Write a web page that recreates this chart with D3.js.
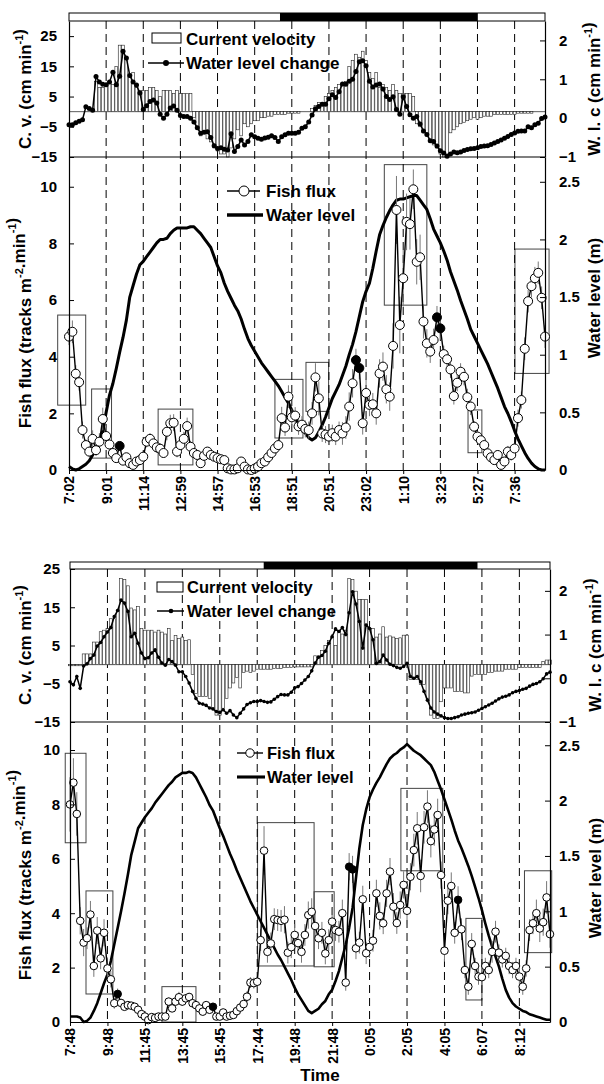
<!DOCTYPE html>
<html><head><meta charset="utf-8">
<script src="https://cdn.jsdelivr.net/npm/d3@7/dist/d3.min.js"></script>
<style>
body{margin:0;background:#fff;}
svg text{font-family:"Liberation Sans",Arial,sans-serif;font-weight:bold;fill:#000;}
</style></head><body>
<svg id="c" width="604" height="1084"></svg>
<script>
// ---------- DATA ----------
const timesA=["7:02","9:01","11:14","12:59","14:57","16:53","18:51","20:51","23:02","1:10","3:23","5:27","7:36"];
const timesB=["7:48","9:48","11:45","13:45","15:45","17:44","19:48","21:48","0:05","2:05","4:05","6:07","8:12"];

const cvTicksA=[-15,-5,5,15,25], cvTicksB=[-15,-5,5,15,25];
const wlcTicks=[-1,0,1,2];
const fluxTicks=[0,2,4,6,8,10];
const levelTicks=[0,0.5,1,1.5,2,2.5];

// Panel A: current velocity (cm/min)
const cvA=[0,0,0,0,0,0,0,0,10,8,8,9,10,9,15,22,22,18,12,13,8,7,
7,7,8,8,7,5,7,7,7,6,7,6,6,6,6,
-2,-5,-8,-7,-9,-10,-12,-13,-14,-14,-15,-12,-9,-6,-8,-4,-5,-4,-3,-3,-2,-2,-1.5,-1.5,-1,-1,-1,-1,-0.5,-0.5,-0.5,-0.5,0,0,
0,1,2,3,3,5,6,7,8,9,9,10,15,17,19,18,20,17,13,11,13,8,9,8,7,9,7,6,6,6,6,5,
-4,-5,-7,-8,-10,-11,-12,-14,-15,-14,-7,-6,-5,-4,-3.5,-3,-2.5,-2,-2.5,-2,-1.5,-1.5,-1.5,-1,-1,-1,-1,-1,-1,-1,-0.5,-0.5,-0.5,-0.5,-0.5,0,0,0,0];
// Panel A: water level change (cm/min)
const wlcA=[-0.17,-0.17,-0.12,-0.08,-0.04,0.29,0.25,0.2,1.07,0.93,
0.87,0.86,0.93,1.18,0.86,1.08,1.72,1.55,1.1,0.93,
0.85,0.65,0.22,0.32,0.43,0.47,0.39,0.1,0.0,0.1,
0.26,0.31,0.2,0.07,0.04,0.04,0.0,-0.1,-0.25,-0.39,
-0.36,-0.35,-0.5,-0.71,-0.78,-0.76,-0.8,-0.82,-0.4,-0.86,
-0.73,-0.56,-0.69,-0.6,-0.43,-0.48,-0.52,-0.54,-0.51,-0.49,
-0.45,-0.5,-0.6,-0.48,-0.43,-0.39,-0.39,-0.39,-0.36,-0.26,
-0.22,-0.1,0.08,0.24,0.3,0.36,0.36,0.5,0.6,0.53,
0.68,0.88,0.87,0.95,1.0,1.2,1.45,1.48,1.35,0.95,
0.8,0.85,0.88,0.75,0.56,0.48,0.55,0.22,0.1,0.55,
0.3,0.09,0.0,0.04,-0.15,-0.33,-0.42,-0.58,-0.6,-0.72,
-0.84,-0.9,-0.98,-0.92,-0.87,-0.89,-0.87,-0.83,-0.81,-0.79,
-0.78,-0.76,-0.73,-0.72,-0.71,-0.68,-0.64,-0.6,-0.56,-0.52,
-0.47,-0.42,-0.38,-0.34,-0.33,-0.33,-0.22,-0.25,-0.17,-0.13,
-0.01,0.03];
// Panel A: water level (m)
const levelA=[0.03,0.01,0.0,0.01,0.03,0.05,0.08,0.13,0.19,0.25,
0.34,0.5,0.65,0.75,0.88,1.02,1.15,1.3,1.5,1.6,
1.7,1.78,1.81,1.85,1.89,1.93,1.97,2.0,2.0,2.01,
2.05,2.08,2.1,2.1,2.1,2.1,2.11,2.11,2.08,2.05,
2.01,1.97,1.93,1.85,1.77,1.71,1.62,1.55,1.49,1.43,
1.38,1.31,1.22,1.14,1.08,1.03,0.98,0.93,0.89,0.85,
0.81,0.77,0.73,0.68,0.63,0.58,0.52,0.45,0.39,0.36,
0.32,0.28,0.26,0.28,0.33,0.39,0.46,0.54,0.62,0.68,
0.74,0.82,0.9,1.0,1.09,1.2,1.33,1.46,1.55,1.62,
1.75,1.9,2.04,2.12,2.19,2.25,2.3,2.34,2.35,2.35,
2.36,2.37,2.38,2.38,2.34,2.3,2.26,2.18,2.09,2.03,
1.97,1.9,1.82,1.72,1.64,1.56,1.47,1.39,1.31,1.22,
1.16,1.1,1.04,0.98,0.92,0.85,0.78,0.71,0.63,0.55,
0.49,0.42,0.34,0.27,0.21,0.15,0.1,0.06,0.03,0.01,
0.0,0.0];
// Panel A: fish flux (tracks m-2 min-1) and error
const fluxA=[4.71,4.88,3.4,3.1,1.41,0.88,0.65,1.1,0.7,1.0,
1.8,1.2,0.9,0.6,0.42,0.85,0.33,0.45,0.24,0.18,
0.3,0.35,0.47,1.0,1.1,0.94,0.8,0.75,0.6,1.35,
1.65,1.67,0.65,0.88,1.1,1.55,0.82,0.6,0.53,0.24,
0.5,0.65,0.53,0.47,0.42,0.38,0.35,0.06,0.02,0.02,
0.06,0.3,0.12,0.02,0.0,0.05,0.12,0.24,0.3,0.45,
0.6,0.76,0.88,1.83,1.5,2.59,1.86,1.92,1.54,1.6,
1.45,1.41,2.0,3.27,2.53,1.29,1.25,1.18,1.3,1.18,
1.41,1.29,1.5,2.24,3.06,3.88,3.6,1.65,2.72,2.3,
2.32,2.0,3.41,3.65,2.85,2.59,4.38,9.18,5.12,6.77,
8.76,8.68,9.91,7.35,7.51,5.24,4.47,4.18,4.59,5.39,
5.0,4.09,3.91,3.55,2.61,3.08,3.47,3.29,2.57,2.24,
1.53,1.18,1.05,0.88,0.59,0.45,0.35,0.53,0.18,0.3,
0.65,0.53,0.76,1.83,2.47,4.28,5.96,6.49,6.77,6.96,
6.08,4.71];
const errA=[0.3,0.4,0.3,0.3,0.3,0.2,0.2,0.3,0.2,0.3,
0.4,0.3,0.2,0.2,0.15,0.15,0.1,0.15,0.1,0.1,
0.1,0.15,0.15,0.2,0.2,0.2,0.2,0.2,0.15,0.3,
0.3,0.3,0.2,0.2,0.25,0.3,0.2,0.2,0.15,0.1,
0.15,0.15,0.15,0.1,0.1,0.1,0.1,0.05,0.05,0.05,
0.05,0.1,0.05,0.05,0.05,0.05,0.05,0.1,0.1,0.1,
0.15,0.2,0.2,0.4,0.3,0.4,0.3,0.3,0.3,0.3,
0.3,0.3,0.4,0.5,0.6,0.3,0.3,0.3,0.3,0.3,
0.3,0.4,0.4,0.5,0.5,0.4,0.4,0.4,0.5,0.4,
0.4,0.4,0.5,0.5,0.5,0.5,0.8,1.2,1.0,1.0,
1.0,0.9,0.7,0.8,0.8,0.6,0.5,0.4,0.4,0.4,
0.4,0.3,0.3,0.3,0.3,0.3,0.3,0.3,0.3,0.3,
0.2,0.2,0.2,0.2,0.2,0.2,0.15,0.15,0.1,0.15,
0.2,0.2,0.2,0.3,0.3,0.4,0.4,0.4,0.4,0.4,
0.4,0.4];
const blackA=[15,85,86,109,110];
const boxesA=[[-3.35,4.95,2.29,5.47],[6.7,12.6,0.42,2.86],[26.4,36.7,0.18,2.15],[61,69.3,1.13,3.2],
[70.2,76.9,2.07,3.8],[93.4,106,5.82,10.78],[118.2,122.3,0.61,2.12],[132.1,142.2,3.41,7.8]];
const nightA=[62.5,121.1];

// Panel B
const cvB=[-0.3,-0.3,-0.3,-0.3,2.8,2.8,2.8,5.9,5.9,8.6,
9,9.4,12,12,14.3,22.5,22.3,20.6,14.8,14.3,
15.2,9.4,9,9,9,8.5,9,8.5,8,9.4,
6.3,7.6,6.8,7.2,6.3,6.5,-2.6,-7.5,-8.3,-8.3,
-8.3,-8.8,-11.4,-13.2,-13.2,-11.4,-8.8,-6.1,-4.8,-3.4,
-6.1,-2.1,-1.7,-2.1,-1.7,-1.2,-1.2,-1.2,-1.2,-1.2,
-1,-1,-1,-0.8,-0.8,-0.8,-0.6,-0.6,-0.6,-0.6,
-0.6,-0.6,2.3,2.3,3.7,5,6.3,7.2,5,9,
8,9,22.5,22.3,19.2,17,17,17,9.4,9.4,
7.2,8,9.9,7.2,7.5,7.2,6.8,7,7.7,7.7,
-3.9,-3.9,-3.9,-5.2,-5.2,-8.8,-13.2,-14.1,-14.1,-9.7,
-6.1,-6.1,-6.1,-7,-7,-7,-7.4,-7.4,-3,-2.6,
-2.6,-2.6,-2.6,-2.1,-2.1,-1.7,-1.7,-1.7,-1.2,-1.2,
-1.2,-1.2,-0.8,-0.8,-0.8,-0.8,-0.8,-0.8,-0.8,0.8,
1.2,1.2];
const wlcB=[-0.08,-0.15,0.04,-0.23,0.28,0.33,0.45,0.53,0.74,0.82,
0.95,1.06,1.16,1.41,1.55,1.79,1.72,1.53,0.95,1.03,
0.8,0.58,0.45,0.47,0.58,0.65,0.48,0.35,0.3,0.43,
0.38,0.3,0.15,0.15,0.04,-0.11,-0.3,-0.46,-0.57,-0.59,
-0.62,-0.68,-0.7,-0.76,-0.78,-0.72,-0.8,-0.74,-0.84,-0.9,
-0.8,-0.7,-0.6,-0.56,-0.53,-0.53,-0.51,-0.53,-0.55,-0.54,
-0.48,-0.42,-0.37,-0.38,-0.38,-0.32,-0.22,-0.19,-0.12,-0.04,
0.04,0.17,0.35,0.48,0.52,0.62,0.8,0.95,1.13,1.07,
1.16,1.0,1.5,1.98,1.7,1.3,0.69,1.22,1.14,0.88,
0.34,0.38,0.53,0.42,0.32,0.29,0.25,0.23,0.27,0.34,
0.04,0.0,0.04,-0.08,-0.3,-0.5,-0.68,-0.77,-0.82,-0.86,
-0.9,-0.92,-0.92,-0.9,-0.88,-0.84,-0.82,-0.8,-0.79,-0.77,
-0.73,-0.69,-0.65,-0.61,-0.57,-0.52,-0.47,-0.43,-0.41,-0.38,
-0.33,-0.3,-0.28,-0.25,-0.23,-0.18,-0.14,-0.12,-0.08,-0.01,
0.1,0.14];
const levelB=[0.05,0.05,0.05,0.04,0.0,0.01,0.04,0.1,0.17,0.26,
0.35,0.43,0.55,0.7,0.85,1.0,1.16,1.33,1.51,1.63,
1.75,1.8,1.85,1.89,1.93,1.98,2.02,2.06,2.1,2.14,
2.17,2.21,2.23,2.25,2.25,2.26,2.25,2.21,2.15,2.09,
2.03,1.96,1.91,1.83,1.75,1.68,1.6,1.52,1.45,1.37,
1.3,1.23,1.16,1.09,1.03,0.97,0.91,0.85,0.79,0.73,
0.67,0.61,0.56,0.5,0.44,0.38,0.31,0.25,0.2,0.15,
0.1,0.08,0.1,0.12,0.16,0.19,0.25,0.29,0.37,0.46,
0.58,0.7,0.85,1.03,1.3,1.57,1.78,1.92,2.03,2.1,
2.16,2.21,2.27,2.33,2.38,2.41,2.43,2.46,2.48,2.51,
2.48,2.45,2.43,2.41,2.38,2.35,2.32,2.26,2.18,2.1,
2.01,1.92,1.83,1.73,1.64,1.57,1.49,1.41,1.32,1.22,
1.12,1.01,0.89,0.78,0.68,0.59,0.5,0.39,0.29,0.22,
0.17,0.14,0.12,0.1,0.09,0.07,0.06,0.05,0.04,0.03,
0.02,0.02];
const fluxB=[8.0,8.8,7.65,3.72,2.92,3.08,3.95,2.06,3.36,2.34,
3.28,1.97,1.57,0.69,1.03,0.7,0.56,0.62,0.6,0.56,
0.45,0.29,0.2,0.07,0.18,0.15,0.2,0.2,0.2,0.75,
0.5,0.75,0.91,0.75,0.87,0.92,0.69,0.62,0.5,0.38,
0.62,0.45,0.56,0.2,0.2,0.35,0.2,0.23,0.26,0.4,
0.53,0.66,0.93,1.45,1.43,1.48,3.01,6.3,2.58,2.89,
3.78,3.75,3.72,3.76,2.55,2.75,3.2,2.9,2.58,3.2,
3.93,4.05,3.53,3.08,3.28,2.52,3.01,3.69,3.38,3.32,
4.0,1.45,5.71,5.61,2.71,2.92,4.51,2.53,2.76,2.99,
4.73,3.9,3.63,4.73,5.53,4.24,3.64,4.3,5.04,4.09,
5.34,6.32,7.12,5.37,7.16,7.92,6.65,7.08,7.61,5.4,
2.62,4.46,5.0,3.28,4.49,3.41,1.91,1.3,2.87,2.06,
1.67,1.65,2.06,1.91,2.58,3.32,2.55,2.3,2.43,2.06,
1.91,2.06,1.67,1.3,1.97,3.38,3.63,4.0,3.44,3.67,
4.58,3.23];
const errB=[1.0,0.9,0.8,0.5,0.5,0.4,0.5,0.4,0.5,0.4,
0.5,0.4,0.3,0.2,0.2,0.15,0.1,0.1,0.1,0.1,
0.1,0.1,0.1,0.05,0.05,0.05,0.05,0.05,0.1,0.15,
0.1,0.15,0.2,0.15,0.15,0.15,0.15,0.1,0.1,0.1,
0.1,0.1,0.1,0.05,0.05,0.1,0.05,0.05,0.1,0.1,
0.15,0.15,0.2,0.2,0.2,0.2,0.4,0.9,0.4,0.4,
0.4,0.4,0.4,0.5,0.4,0.4,0.4,0.4,0.4,0.4,
0.5,0.5,0.5,0.4,0.4,0.4,0.4,0.5,0.4,0.4,
0.5,0.3,0.5,0.5,0.4,0.4,0.5,0.4,0.4,0.4,
0.5,0.5,0.4,0.5,0.5,0.5,0.4,0.5,0.5,0.5,
0.5,0.6,0.6,0.6,0.6,0.6,0.6,0.6,0.6,0.5,
0.4,0.5,0.5,0.4,0.5,0.4,0.3,0.3,0.4,0.3,
0.3,0.3,0.3,0.3,0.4,0.4,0.3,0.3,0.3,0.3,
0.3,0.3,0.3,0.3,0.3,0.4,0.4,0.5,0.5,0.5,
0.6,0.5];
const blackB=[14,42,82,83,114];
const boxesB=[[-1.4,4.7,6.59,9.88],[4.7,12.6,1.03,4.82],[27,37,0,1.3],[55.1,71.7,2.06,7.33],
[71.7,77.6,2.03,4.79],[97.2,109.5,5.56,8.59],[116.3,121,0.81,3.81],[133.5,141.5,2.55,5.56]];
const nightB=[56.9,119.7];

// ---------- DRAW ----------
const svg=d3.select("#c");
const FONT='"Liberation Sans",Arial,sans-serif';

function vtext(g,x,y,parts,size){
  const t=g.append("text").attr("transform",`translate(${x},${y}) rotate(-90)`)
    .attr("text-anchor","middle").attr("dominant-baseline","central").style("font-size",size+"px");
  parts.forEach(p=>{
    if(p.sup){t.append("tspan").attr("dy",-size*0.38).style("font-size",(size*0.65)+"px").text(p.t);
      t.append("tspan").attr("dy",size*0.38).text("");}
    else t.append("tspan").text(p.t);
  });
}
function styleAxis(sel,size){
  sel.attr("font-family",FONT).attr("font-size",size).attr("font-weight","bold");
  sel.selectAll("text").attr("fill","#000");
  sel.selectAll("line").attr("stroke","#000");
  sel.select(".domain").attr("stroke","#000").attr("stroke-width",1.2);
}

function panel(o){
  const g=svg.append("g");
  const x=d3.scaleLinear().domain([0,141]).range([o.L,o.R]);
  const yCV=d3.scaleLinear().domain(o.cvDomain).range([o.mid,o.top]);
  const yW=d3.scaleLinear().domain([-1,2.5]).range([o.mid,o.top]);
  const yF=d3.scaleLinear().domain([0,o.fluxMax]).range([o.bottom,o.mid]);
  const yL=d3.scaleLinear().domain([0,o.levelMax]).range([o.bottom,o.mid]);
  const step=x(1)-x(0);
  const tickIdx=o.times.map((t,k)=>k*11);

  // day/night bar
  g.append("rect").attr("x",o.L).attr("y",o.barTop).attr("width",o.R-o.L).attr("height",o.top-o.barTop)
    .attr("fill","#fff").attr("stroke","#000").attr("stroke-width",1);
  g.append("rect").attr("x",x(o.night[0])).attr("y",o.barTop).attr("width",x(o.night[1])-x(o.night[0]))
    .attr("height",o.top-o.barTop).attr("fill","#000");

  // boxes
  g.selectAll(null).data(o.boxes).join("rect")
    .attr("x",d=>x(d[0])).attr("width",d=>x(d[1])-x(d[0]))
    .attr("y",d=>yF(d[3])).attr("height",d=>yF(d[2])-yF(d[3]))
    .attr("fill","none").attr("stroke","#444").attr("stroke-width",1);

  // dashed verticals
  g.selectAll(null).data(tickIdx.slice(1)).join("line")
    .attr("x1",d=>x(d)).attr("x2",d=>x(d)).attr("y1",o.top).attr("y2",o.bottom)
    .attr("stroke","#000").attr("stroke-width",1).attr("stroke-dasharray","8,5");

  // upper: zero line, bars, wlc
  g.append("line").attr("x1",o.L).attr("x2",o.R).attr("y1",yCV(0)).attr("y2",yCV(0)).attr("stroke","#333").attr("stroke-width",0.8);
  const bw=step*0.82;
  g.selectAll(null).data(o.cv.map((v,i)=>({v,i})).filter(d=>d.v!==0)).join("rect")
    .attr("x",d=>x(d.i)-bw/2).attr("width",bw)
    .attr("y",d=>Math.min(yCV(d.v),yCV(0))).attr("height",d=>Math.abs(yCV(d.v)-yCV(0)))
    .attr("fill","#fff").attr("stroke","#222").attr("stroke-width",0.6);
  g.append("path").datum(o.wlc).attr("d",d3.line().x((d,i)=>x(i)).y(d=>yW(d)))
    .attr("fill","none").attr("stroke","#000").attr("stroke-width",1.5);
  g.selectAll(null).data(o.wlc).join("circle").attr("cx",(d,i)=>x(i)).attr("cy",d=>yW(d)).attr("r",o.rW).attr("fill","#000");

  // separator
  g.append("line").attr("x1",o.L).attr("x2",o.R).attr("y1",o.mid).attr("y2",o.mid).attr("stroke","#000").attr("stroke-width",1.2);

  // lower: water level
  g.append("path").datum(o.level).attr("d",d3.line().x((d,i)=>x(i)).y(d=>yL(d)))
    .attr("fill","none").attr("stroke","#000").attr("stroke-width",o.lw).attr("stroke-linejoin","round");
  // error bars
  g.selectAll(null).data(o.flux.map((v,i)=>({v,i,e:o.err[i]}))).join("line")
    .attr("x1",d=>x(d.i)).attr("x2",d=>x(d.i))
    .attr("y1",d=>yF(Math.max(0,d.v-d.e))).attr("y2",d=>yF(d.v+d.e))
    .attr("stroke","#777").attr("stroke-width",1);
  g.append("path").datum(o.flux).attr("d",d3.line().x((d,i)=>x(i)).y(d=>yF(d)))
    .attr("fill","none").attr("stroke","#000").attr("stroke-width",1.4);
  g.selectAll(null).data(o.flux.map((v,i)=>({v,i}))).join("circle")
    .attr("cx",d=>x(d.i)).attr("cy",d=>yF(d.v)).attr("r",o.rF)
    .attr("fill",d=>o.black.includes(d.i)?"#000":"#fff").attr("stroke","#000").attr("stroke-width",1);

  // axes
  const fmt=d3.format("");
  styleAxis(g.append("g").attr("transform",`translate(${o.L},0)`)
    .call(d3.axisLeft(yCV).tickValues(o.cvTicks).tickFormat(fmt).tickSize(-5).tickSizeOuter(0).tickPadding(o.padL)),15);
  styleAxis(g.append("g").attr("transform",`translate(${o.L},0)`)
    .call(d3.axisLeft(yF).tickValues(fluxTicks).tickFormat(fmt).tickSize(-5).tickSizeOuter(0).tickPadding(o.padL)),15);
  styleAxis(g.append("g").attr("transform",`translate(${o.R},0)`)
    .call(d3.axisRight(yW).tickValues(wlcTicks).tickFormat(fmt).tickSize(-5).tickSizeOuter(0).tickPadding(o.padR)),15);
  styleAxis(g.append("g").attr("transform",`translate(${o.R},0)`)
    .call(d3.axisRight(yL).tickValues(levelTicks).tickFormat(fmt).tickSize(-5).tickSizeOuter(0).tickPadding(o.padR)),15);
  const xa=g.append("g").attr("transform",`translate(0,${o.bottom})`)
    .call(d3.axisBottom(x).tickValues(tickIdx).tickFormat((d,i)=>o.times[i]).tickSize(4).tickSizeOuter(0));
  styleAxis(xa,14);
  xa.selectAll("text").attr("transform","rotate(-90)").attr("text-anchor","end")
    .attr("x",-6).attr("y",0).attr("dy","0.35em");

  // axis titles
  vtext(g,25,o.tLU,[{t:"C. v. (cm min"},{t:"-1",sup:true},{t:")"}],17);
  vtext(g,25,o.tLL,[{t:"Fish flux (tracks m"},{t:"-2",sup:true},{t:".min"},{t:"-1",sup:true},{t:")"}],17);
  vtext(g,o.tRx,o.tLU,[{t:"W. l. c (cm min"},{t:"-1",sup:true},{t:")"}],17);
  vtext(g,o.tRx,o.tRL,[{t:"Water level (m)"}],17);

  // legends
  const lu=o.legU, ll=o.legL, fs=o.legFont;
  g.append("rect").attr("x",lu.rx).attr("y",lu.ry).attr("width",lu.rw).attr("height",lu.rh)
    .attr("fill","#fff").attr("stroke","#000").attr("stroke-width",1);
  g.append("text").attr("x",lu.tx).attr("y",lu.ty1).style("font-size",fs+"px").text("Current velocity");
  g.append("line").attr("x1",lu.lx1).attr("x2",lu.lx2).attr("y1",lu.ly).attr("y2",lu.ly).attr("stroke","#000").attr("stroke-width",1.5);
  g.append("circle").attr("cx",lu.dx).attr("cy",lu.ly).attr("r",o.rW+0.5).attr("fill","#000");
  g.append("text").attr("x",lu.tx).attr("y",lu.ty2).style("font-size",fs+"px").text("Water level change");

  g.append("line").attr("x1",ll.lx1).attr("x2",ll.lx2).attr("y1",ll.ly1).attr("y2",ll.ly1).attr("stroke","#000").attr("stroke-width",1.4);
  g.append("circle").attr("cx",ll.cx).attr("cy",ll.ly1).attr("r",ll.r).attr("fill","#fff").attr("stroke","#000").attr("stroke-width",1);
  g.append("text").attr("x",ll.tx).attr("y",ll.ty1).style("font-size",fs+"px").text("Fish flux");
  g.append("line").attr("x1",ll.lx1).attr("x2",ll.lx3).attr("y1",ll.ly2).attr("y2",ll.ly2).attr("stroke","#000").attr("stroke-width",o.lw+0.5);
  g.append("text").attr("x",ll.tx).attr("y",ll.ty2).style("font-size",fs+"px").text("Water level");
}

panel({L:69,R:545,barTop:13,top:21,mid:157,bottom:470,cvDomain:[-15,30],cvTicks:cvTicksA,
  fluxMax:11.05,levelMax:2.715,times:timesA,cv:cvA,wlc:wlcA,level:levelA,flux:fluxA,err:errA,
  black:blackA,boxes:boxesA,night:nightA,rF:4.5,rW:2.5,lw:3,padL:12,padR:14,
  tLU:89,tLL:323,tRx:594,tRL:298,legFont:17,
  legU:{rx:152,ry:33,rw:29,rh:10,tx:186,ty1:45,ty2:69,lx1:148,lx2:184,ly:63,dx:166},
  legL:{lx1:227,lx2:260,lx3:263,ly1:191,ly2:215,cx:244,r:5,tx:266,ty1:197,ty2:221}});

panel({L:70,R:550,barTop:562,top:569,mid:722,bottom:1022,cvDomain:[-15,25],cvTicks:cvTicksB,
  fluxMax:11.03,levelMax:2.71,times:timesB,cv:cvB,wlc:wlcB,level:levelB,flux:fluxB,err:errB,
  black:blackB,boxes:boxesB,night:nightB,rF:3.8,rW:1.8,lw:2.6,padL:10,padR:9,
  tLU:645,tLL:875,tRx:595,tRL:878,legFont:16.5,
  legU:{rx:157,ry:582,rw:26,rh:10,tx:187,ty1:593,ty2:617,lx1:157,lx2:184,ly:611,dx:171},
  legL:{lx1:237,lx2:263,lx3:265,ly1:753,ly2:777,cx:250,r:4.2,tx:267,ty1:759,ty2:783}});

svg.append("text").attr("x",320).attr("y",1081).attr("text-anchor","middle").style("font-size","17px").text("Time");
</script>
</body></html>
